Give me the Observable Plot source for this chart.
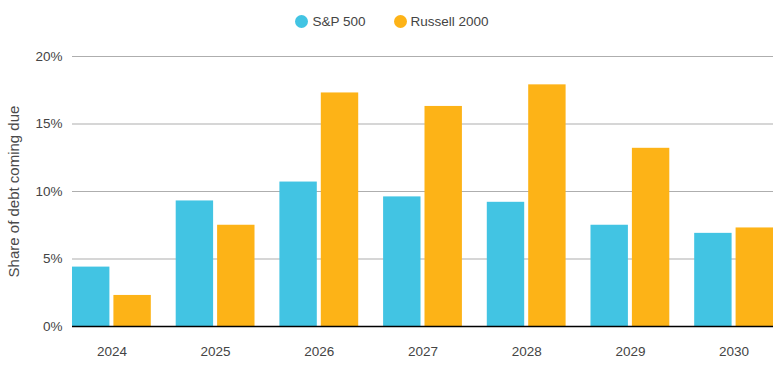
<!DOCTYPE html>
<html>
<head>
<meta charset="utf-8">
<script src="https://cdn.jsdelivr.net/npm/d3@7"></script>
<script src="https://cdn.jsdelivr.net/npm/@observablehq/plot@0.6"></script>
<style>
  html, body { margin: 0; padding: 0; background: #fff; }
  body { width: 780px; height: 376px; overflow: hidden; font-family: "Liberation Sans", Arial, sans-serif; }
  #legend { height: 40px; display: flex; justify-content: center; align-items: center; gap: 28px; font-size: 13.5px; color: #444; padding: 3px 0 0 4px; box-sizing: border-box; }
  #legend .item { display: flex; align-items: center; gap: 4px; }
  #legend .dot { width: 13px; height: 13px; border-radius: 50%; display: inline-block; }
</style>
</head>
<body>
<div id="legend"></div>
<div id="chart"></div>
<script>
const years = ["2024", "2025", "2026", "2027", "2028", "2029", "2030"];
const series = ["S&P 500", "Russell 2000"];
const sp500 = [4.4, 9.3, 10.7, 9.6, 9.2, 7.5, 6.9];
const russell2000 = [2.3, 7.5, 17.3, 16.3, 17.9, 13.2, 7.3];
const yTicks = [0, 5, 10, 15, 20];
const colors = ["#42C4E3", "#FDB317"];

const data = years.flatMap((yr, i) => [
  {year: yr, series: series[0], value: sp500[i]},
  {year: yr, series: series[1], value: russell2000[i]}
]);

// legend
const legend = document.getElementById("legend");
series.forEach((s, i) => {
  const it = document.createElement("span");
  it.className = "item";
  it.innerHTML = `<span class="dot" style="background:${colors[i]}"></span><span>${s.replace("&", "&amp;")}</span>`;
  legend.appendChild(it);
});

const width = 780, marginLeft = 72, marginRight = 7;
const paddingInner = 0.24;
const step = (width - marginLeft - marginRight) / (years.length - paddingInner);
const bw = step * (1 - paddingInner);
const gap = 4;
const inset = (bw + gap) / 2;

const chart = Plot.plot({
  width,
  height: 336,
  marginTop: 16,
  marginBottom: 50,
  marginLeft,
  marginRight,
  style: {fontFamily: "'Liberation Sans', Arial, sans-serif", fontSize: "13px", color: "#444"},
  x: {domain: years, paddingInner, paddingOuter: 0, round: false, label: null},
  y: {domain: [0, 20], label: null},
  marks: [
    Plot.ruleY(yTicks.filter(d => d > 0), {stroke: "#9a9a9a", strokeWidth: 1, strokeOpacity: 0.8}),
    Plot.barY(data.filter(d => d.series === series[0]), {x: "year", y: "value", fill: colors[0], insetRight: inset}),
    Plot.barY(data.filter(d => d.series === series[1]), {x: "year", y: "value", fill: colors[1], insetLeft: inset}),
    Plot.ruleY([0], {stroke: "#000", strokeWidth: 1.5}),
    Plot.axisX({tickSize: 0, tickPadding: 20, fontSize: 13.5, fill: "#444"}),
    Plot.axisY({ticks: yTicks, tickSize: 0, tickPadding: 10, tickFormat: d => d + "%", fontSize: 13.5, fill: "#444", label: null}),
    Plot.axisY({ticks: [], tickSize: 0, fontSize: 15, fill: "#4a4a4a", fontWeight: 500,
      label: "Share of debt coming due", labelAnchor: "center", labelArrow: "none", labelOffset: 64})
  ]
});
document.getElementById("chart").appendChild(chart);
</script>
</body>
</html>
